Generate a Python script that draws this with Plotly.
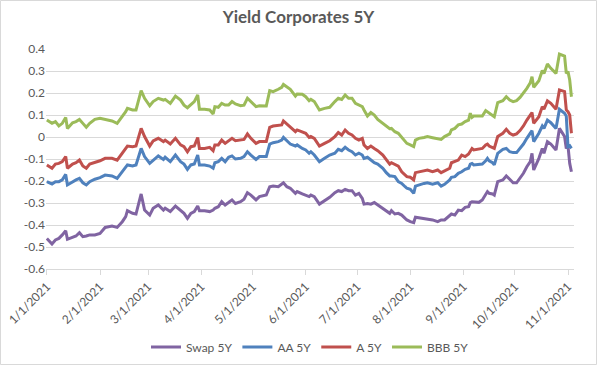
import pandas as pd
import plotly.graph_objects as go

# Day offsets from 1 Jan 2021 of the sampled observations
day_offsets = [0, 3, 5, 7, 9, 11, 12, 15, 17, 19, 21, 23, 25, 28, 31, 34, 38, 41, 44, 46,
               47, 50, 52, 55, 57, 60, 62, 65, 68, 69, 72, 75, 78, 80, 82, 84, 86, 88, 89, 92,
               95, 97, 98, 100, 102, 104, 106, 108, 110, 113, 115, 117, 119, 122, 124, 128, 130, 132, 135, 137,
               138, 140, 142, 145, 146, 149, 151, 153, 154, 156, 159, 162, 165, 168, 170, 172, 174, 176, 178, 180,
               182, 184, 185, 187, 189, 191, 193, 196, 198, 200, 201, 203, 205, 207, 209, 210, 212, 214, 215, 217,
               220, 222, 225, 228, 230, 232, 235, 236, 238, 240, 242, 244, 246, 247, 248, 249, 252, 254, 256, 257,
               258, 260, 261, 263, 266, 268, 270, 272, 274, 276, 278, 280, 282, 283, 284, 287, 289, 290, 292, 294,
               297, 299, 302, 303, 304, 305, 306]

swap_5y = [-0.461, -0.486, -0.468, -0.461, -0.445, -0.426, -0.465, -0.456, -0.450, -0.435, -0.453, -0.450, -0.445, -0.445, -0.438, -0.411, -0.405, -0.411, -0.385, -0.362,
           -0.335, -0.347, -0.350, -0.259, -0.332, -0.355, -0.324, -0.309, -0.332, -0.324, -0.339, -0.314, -0.332, -0.347, -0.370, -0.347, -0.339, -0.314, -0.335, -0.335,
           -0.339, -0.332, -0.324, -0.317, -0.294, -0.309, -0.298, -0.286, -0.302, -0.294, -0.283, -0.253, -0.264, -0.286, -0.271, -0.264, -0.226, -0.223, -0.226, -0.214,
           -0.208, -0.226, -0.233, -0.256, -0.248, -0.259, -0.264, -0.271, -0.264, -0.271, -0.305, -0.289, -0.274, -0.253, -0.244, -0.248, -0.238, -0.244, -0.244, -0.264,
           -0.256, -0.279, -0.305, -0.302, -0.305, -0.298, -0.309, -0.324, -0.339, -0.347, -0.335, -0.350, -0.347, -0.355, -0.370, -0.377, -0.385, -0.389, -0.365, -0.367,
           -0.370, -0.373, -0.377, -0.385, -0.377, -0.377, -0.355, -0.350, -0.355, -0.332, -0.335, -0.320, -0.317, -0.298, -0.294, -0.295, -0.297, -0.286, -0.264, -0.248,
           -0.256, -0.259, -0.264, -0.203, -0.195, -0.177, -0.192, -0.208, -0.208, -0.188, -0.165, -0.135, -0.112, -0.074, -0.150, -0.097, -0.052, -0.074, -0.021, -0.032,
           -0.059, 0.039, 0.002, -0.052, -0.041, -0.120, -0.158]

aa_5y = [-0.203, -0.214, -0.203, -0.203, -0.195, -0.170, -0.218, -0.203, -0.195, -0.188, -0.208, -0.218, -0.203, -0.192, -0.185, -0.173, -0.177, -0.188, -0.158, -0.142,
         -0.127, -0.132, -0.127, -0.052, -0.089, -0.120, -0.105, -0.086, -0.102, -0.092, -0.112, -0.082, -0.112, -0.123, -0.147, -0.127, -0.123, -0.082, -0.127, -0.127,
         -0.132, -0.142, -0.117, -0.112, -0.097, -0.112, -0.092, -0.086, -0.100, -0.097, -0.089, -0.067, -0.082, -0.102, -0.089, -0.089, -0.032, -0.026, -0.021, -0.014,
         -0.002, -0.017, -0.032, -0.041, -0.036, -0.052, -0.059, -0.074, -0.067, -0.082, -0.112, -0.097, -0.082, -0.074, -0.056, -0.062, -0.047, -0.059, -0.067, -0.082,
         -0.074, -0.082, -0.097, -0.092, -0.105, -0.117, -0.123, -0.142, -0.162, -0.177, -0.177, -0.180, -0.203, -0.211, -0.226, -0.233, -0.238, -0.256, -0.223, -0.217,
         -0.211, -0.208, -0.214, -0.208, -0.223, -0.215, -0.195, -0.183, -0.180, -0.165, -0.158, -0.147, -0.142, -0.123, -0.120, -0.127, -0.123, -0.123, -0.108, -0.097,
         -0.108, -0.117, -0.127, -0.074, -0.056, -0.052, -0.067, -0.071, -0.071, -0.052, -0.032, -0.006, 0.014, 0.029, -0.021, 0.017, 0.050, 0.039, 0.077, 0.065,
         0.039, 0.126, 0.108, 0.095, -0.044, -0.040, -0.052]

a_5y = [-0.127, -0.142, -0.123, -0.120, -0.112, -0.089, -0.142, -0.123, -0.117, -0.105, -0.132, -0.142, -0.123, -0.117, -0.108, -0.097, -0.097, -0.105, -0.074, -0.056,
        -0.041, -0.044, -0.041, 0.039, 0.002, -0.041, -0.018, -0.006, -0.021, -0.014, -0.032, -0.006, -0.036, -0.044, -0.067, -0.044, -0.041, -0.002, -0.052, -0.052,
        -0.047, -0.062, -0.036, -0.036, -0.014, -0.029, -0.018, -0.006, -0.017, -0.014, -0.011, 0.014, -0.006, -0.029, -0.021, -0.021, 0.044, 0.050, 0.055, 0.055,
        0.073, 0.059, 0.044, 0.024, 0.032, 0.024, 0.017, -0.002, 0.002, -0.006, -0.041, -0.029, -0.017, 0.002, 0.020, 0.009, 0.032, 0.017, 0.009, -0.006,
        -0.014, -0.006, -0.036, -0.052, -0.041, -0.052, -0.062, -0.082, -0.102, -0.123, -0.117, -0.123, -0.132, -0.158, -0.173, -0.180, -0.183, -0.195, -0.162, -0.159,
        -0.153, -0.150, -0.158, -0.150, -0.162, -0.153, -0.142, -0.117, -0.112, -0.105, -0.082, -0.089, -0.077, -0.067, -0.052, -0.059, -0.056, -0.052, -0.036, -0.032,
        -0.041, -0.047, -0.052, 0.002, 0.017, 0.035, 0.017, 0.009, 0.014, 0.029, 0.050, 0.077, 0.100, 0.111, 0.062, 0.092, 0.138, 0.126, 0.164, 0.153,
        0.126, 0.214, 0.206, 0.123, 0.115, 0.100, 0.017]

bbb_5y = [0.077, 0.062, 0.070, 0.050, 0.062, 0.089, 0.039, 0.065, 0.070, 0.080, 0.062, 0.044, 0.062, 0.080, 0.085, 0.080, 0.073, 0.062, 0.092, 0.115,
          0.130, 0.123, 0.123, 0.211, 0.176, 0.142, 0.161, 0.176, 0.168, 0.171, 0.153, 0.186, 0.168, 0.145, 0.133, 0.148, 0.161, 0.191, 0.126, 0.126,
          0.123, 0.105, 0.138, 0.135, 0.153, 0.145, 0.145, 0.161, 0.150, 0.142, 0.145, 0.176, 0.161, 0.138, 0.142, 0.141, 0.211, 0.206, 0.217, 0.226,
          0.239, 0.229, 0.217, 0.186, 0.195, 0.194, 0.183, 0.165, 0.171, 0.161, 0.123, 0.130, 0.135, 0.161, 0.176, 0.171, 0.191, 0.176, 0.176, 0.153,
          0.145, 0.138, 0.123, 0.095, 0.111, 0.100, 0.080, 0.062, 0.050, 0.038, 0.039, 0.024, 0.017, -0.002, -0.021, -0.029, -0.036, -0.044, -0.014, -0.006,
          -0.002, 0.002, -0.003, -0.008, -0.011, 0.002, 0.014, 0.032, 0.039, 0.055, 0.059, 0.070, 0.077, 0.108, 0.089, 0.095, 0.095, 0.095, 0.120, 0.115,
          0.111, 0.100, 0.092, 0.156, 0.165, 0.183, 0.168, 0.161, 0.165, 0.180, 0.198, 0.221, 0.247, 0.274, 0.226, 0.256, 0.302, 0.289, 0.332, 0.312,
          0.289, 0.377, 0.368, 0.289, 0.297, 0.259, 0.183]

series_names = ["Swap 5Y", "AA 5Y", "A 5Y", "BBB 5Y"]
series_colors = ["#8064A2", "#4F81BD", "#C0504D", "#9BBB59"]

tick_dates = ["2021-01-01", "2021-02-01", "2021-03-01", "2021-04-01", "2021-05-01", "2021-06-01",
              "2021-07-01", "2021-08-01", "2021-09-01", "2021-10-01", "2021-11-01"]
tick_labels = ["1/1/2021", "2/1/2021", "3/1/2021", "4/1/2021", "5/1/2021", "6/1/2021",
               "7/1/2021", "8/1/2021", "9/1/2021", "10/1/2021", "11/1/2021"]
y_ticks = [0.4, 0.3, 0.2, 0.1, 0, -0.1, -0.2, -0.3, -0.4, -0.5, -0.6]
y_tick_labels = ["0.4", "0.3", "0.2", "0.1", "0", "-0.1", "-0.2", "-0.3", "-0.4", "-0.5", "-0.6"]

base = pd.Timestamp("2021-01-01")
dates = [base + pd.Timedelta(days=d) for d in day_offsets]

FONT = "Lato, Carlito, Calibri, sans-serif"
GRID = "#d9d9d9"
TXT = "#595959"

fig = go.Figure()
for name, vals, col in zip(series_names, [swap_5y, aa_5y, a_5y, bbb_5y], series_colors):
    fig.add_trace(go.Scatter(x=dates, y=vals, mode="lines", name=name,
                             line=dict(color=col, width=3)))

fig.update_layout(
    width=597, height=365,
    margin=dict(l=46, r=23, t=49, b=96, autoexpand=False),
    paper_bgcolor="white", plot_bgcolor="white",
    font=dict(family=FONT, size=12, color=TXT),
    title=dict(text="<b>Yield Corporates 5Y</b>", x=0.5, xanchor="center", y=0.953, yanchor="middle",
               font=dict(family=FONT, size=17, color=TXT)),
    showlegend=True,
    legend=dict(orientation="h", x=0.5, xanchor="center", y=-0.355, yanchor="middle",
                font=dict(family=FONT, size=12, color=TXT), itemwidth=30, tracegroupgap=0),
    xaxis=dict(range=[pd.Timestamp("2020-12-31 12:00"), pd.Timestamp("2021-11-04 12:00")],
               tickvals=[pd.Timestamp(d) for d in tick_dates], ticktext=tick_labels,
               tickangle=-45, showgrid=False, showline=True, linecolor=GRID, linewidth=1,
               ticks="outside", ticklen=5, tickcolor=GRID, zeroline=False, automargin=False,
               tickfont=dict(family=FONT, size=12, color=TXT)),
    yaxis=dict(range=[-0.6, 0.4], tickvals=y_ticks, ticktext=y_tick_labels, automargin=False,
               showgrid=True, gridcolor=GRID, gridwidth=1, zeroline=False, showline=False,
               ticks="", tickfont=dict(family=FONT, size=12, color=TXT)),
    shapes=[dict(type="rect", xref="paper", yref="paper",
                 x0=-45.5/528, x1=1 + 22.5/528, y0=-95.5/220, y1=1 + 48.5/220,
                 line=dict(color=GRID, width=1), fillcolor="rgba(0,0,0,0)", layer="below")],
)

fig.write_html("out.html", config={"displayModeBar": False},
               post_script="document.body.style.margin='0';document.body.style.overflow='hidden';")
